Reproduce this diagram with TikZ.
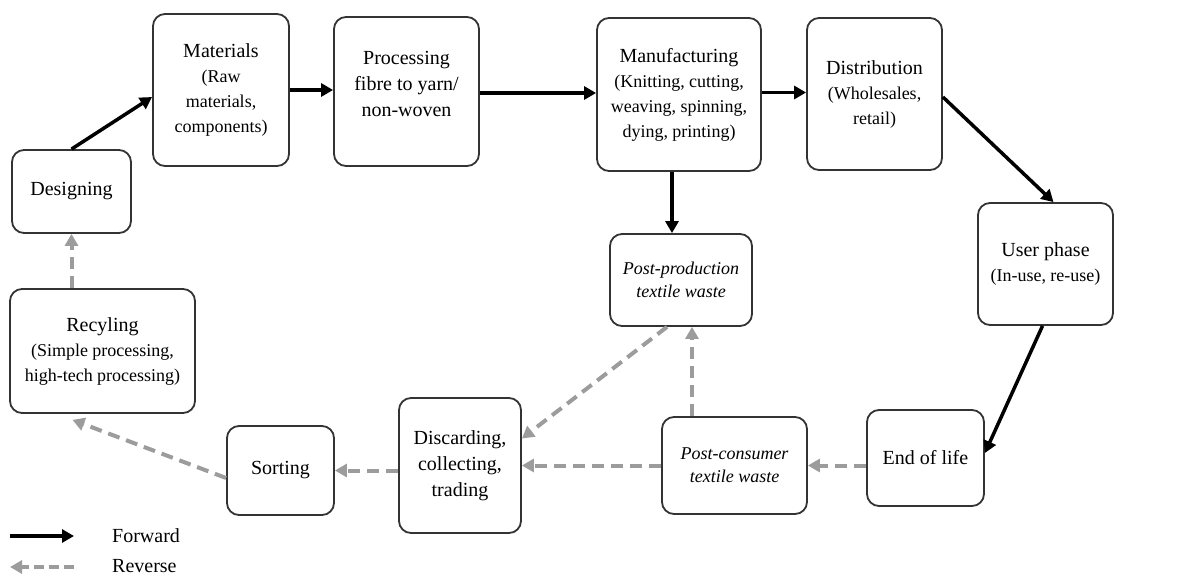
\documentclass[tikz,border=0pt]{standalone}
\usepackage{fontspec}
\setmainfont{Liberation Serif}
\usetikzlibrary{arrows.meta,calc}
\definecolor{boxc}{HTML}{333333}
\definecolor{revc}{HTML}{9C9C9C}
\newcommand{\bigt}[1]{{\fontsize{20}{24}\selectfont #1}}
\begin{document}
\begin{tikzpicture}[x=1pt,y=-1pt,
  box/.style={draw=boxc, line width=1.8pt, rounded corners=12pt, align=center,
    inner sep=2pt, fill=white, font=\fontsize{18}{25}\selectfont},
  big/.style={font=\fontsize{20}{26}\selectfont},
  ital/.style={font=\fontsize{18}{23}\selectfont\itshape},
  fwd/.style={line width=3.5pt, draw=black, -{Triangle[length=12pt,width=13pt]}},
  rev/.style={line width=4pt, draw=revc, dash pattern=on 12pt off 7pt,
    -{Triangle[length=12pt,width=13pt]}},
  lbl/.style={anchor=west, font=\fontsize{20}{24}\selectfont, inner sep=0pt}]
\useasboundingbox (0,0) rectangle (1187,576);

\node[box, big, minimum width=119pt, minimum height=83pt] (des) at (71.5,191.5) {Designing};
\node[box, minimum width=136pt, minimum height=152pt] (mat) at (221,90)
  {\bigt{Materials}\\(Raw\\materials,\\components)};
\node[box, minimum width=145pt, minimum height=149pt] (proc) at (406.5,91.5) {};
\node[big, align=center, inner sep=0pt] (proct) at (406.5,84) {Processing\\fibre to yarn/\\non-woven};
\node[box, minimum width=164pt, minimum height=153pt] (man) at (679,94.5)
  {\bigt{Manufacturing}\\(Knitting, cutting,\\weaving, spinning,\\dying, printing)};
\node[box, minimum width=135pt, minimum height=152pt] (dist) at (874.5,94)
  {\bigt{Distribution}\\(Wholesales,\\retail)};
\node[box, minimum width=135pt, minimum height=122pt] (user) at (1045.5,264)
  {\bigt{User phase}\\(In-use, re-use)};
\node[box, ital, minimum width=142pt, minimum height=92pt] (pp) at (681,280)
  {Post-production\\textile waste};
\node[box, minimum width=185pt, minimum height=124pt] (recy) at (102.5,351)
  {\bigt{Recyling}\\(Simple processing,\\high-tech processing)};
\node[box, big, minimum width=107pt, minimum height=89pt] (sort) at (280.5,470.5) {Sorting};
\node[box, big, minimum width=122pt, minimum height=135pt] (disc) at (460,465.5)
  {Discarding,\\collecting,\\trading};
\node[box, ital, minimum width=145pt, minimum height=97pt] (pc) at (734.5,465.5)
  {Post-consumer\\textile waste};
\node[box, big, minimum width=117pt, minimum height=96pt] (eol) at (925.5,458) {End of life};

% forward
\draw[fwd] (des.north) -- ($(mat.west)+(0,7)$);
\draw[fwd] (mat.east) -- (mat.east -| proc.west);
\draw[fwd] ($(proc.east)+(0,1.5)$) -- ($(proc.east -| man.west)+(0,1.5)$);
\draw[fwd] ($(man.east)+(0,-2)$) -- ($(man.east -| dist.west)+(0,-2)$);
\draw[fwd] ($(dist.east)+(0,3)$) -- ($(user.north)+(8,0)$);
\draw[fwd] ($(user.south)+(-3,0)$) -- ($(eol.east)+(0,-5)$);
\coordinate (mx) at ($(man.south)+(-7,0)$);
\draw[fwd] (mx) -- (mx |- pp.north);

% reverse
\draw[rev] (eol.west |- pc.east) -- (pc.east);
\draw[rev] (pc.west) -- (pc.west -| disc.east);
\coordinate (px) at ($(pp.south)+(11,0)$);
\draw[rev] (px |- pc.north) -- (px);
\draw[rev] ($(pp.south)+(-14,0)$) -- ($(disc.east)+(0,-27)$);
\draw[rev] (disc.west |- sort.east) -- (sort.east);
\draw[rev] ($(sort.west)+(0,7.5)$) -- ($(recy.south)+(-30,6)$);
\draw[rev] (recy.north -| des.south) -- (des.south);

% legend
\coordinate (f1) at (10,536);
\coordinate (f2) at (74,536);
\coordinate (r1) at (74,567);
\coordinate (r2) at (10,567);
\draw[fwd] (f1) -- (f2);
\draw[rev, dash pattern=on 10pt off 5pt] (r1) -- (r2);
\node[lbl] (lf) at (112,536) {Forward};
\node[lbl] (lr) at (112,566) {Reverse};
\end{tikzpicture}
\end{document}
